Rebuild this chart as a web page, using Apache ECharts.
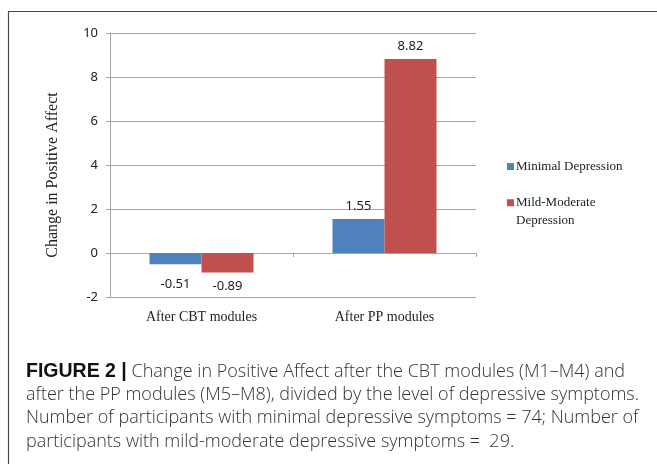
<!DOCTYPE html>
<html>
<head>
<meta charset="utf-8">
<script src="https://cdn.jsdelivr.net/npm/echarts@6/dist/echarts.min.js"></script>
<style>
  html, body { margin: 0; padding: 0; background: #fff; }
  #chart { width: 657px; height: 464px; }
</style>
</head>
<body>
<div id="chart"></div>
<script>
  // data
  var categories = ['After CBT modules', 'After PP modules'];
  var minimalValues = [-0.51, 1.55];
  var mildModerateValues = [-0.89, 8.82];
  var seriesNames = ['Minimal Depression', 'Mild-Moderate Depression'];
  var yTicks = { min: -2, max: 10, step: 2 };

  var serif = '"Liberation Serif", "Times New Roman", serif';
  var sans = '"Noto Sans", "Open Sans", sans-serif';
  var captionFont = '"Open Sans", "Liberation Sans", Arial, sans-serif';

  var caption = [
    '{b|FIGURE 2 |} Change in Positive Affect after the CBT modules (M1\u2013M4) and',
    'after the PP modules (M5\u2013M8), divided by the level of depressive symptoms.',
    'Number of participants with minimal depressive symptoms = 74; Number of',
    'participants with mild-moderate depressive symptoms =  29.'
  ].join('\n');

  // square on top of a taller (invisible) box so it lines up with the first text line
  var topSquareIcon = 'path://M0,0H7V7H0Z M0,24.5L0.01,24.5Z';

  // negative labels sit a bit further down on the blue bar in the original
  function buildData(values, negGap) {
    return values.map(function (v) {
      return {
        value: v,
        label: {
          show: true,
          position: v < 0 ? 'bottom' : 'top',
          distance: v < 0 ? negGap : 6,
          color: '#222',
          fontFamily: sans,
          fontSize: 13
        }
      };
    });
  }

  var myChart = echarts.init(document.getElementById('chart'));
  var option = {
    animation: false,
    title: {
      text: caption,
      left: 26,
      top: 360,
      padding: 0,
      textStyle: {
        fontFamily: captionFont,
        fontWeight: 300,
        fontSize: 18,
        lineHeight: 23.3,
        color: '#333',
        rich: {
          b: { fontFamily: '"Liberation Sans", Arial, sans-serif', fontWeight: 'bold', fontSize: 19.5, color: '#111', lineHeight: 23.3 }
        }
      }
    },
    graphic: [{
      type: 'rect',
      shape: { x: 8.5, y: 11.5, width: 700, height: 500 },
      style: { fill: 'none', stroke: '#4a4a4a', lineWidth: 1.2 },
      silent: true
    }],
    grid: { left: 110, right: 181, top: 33, bottom: 167 },
    legend: [{
      orient: 'vertical',
      left: 507,
      top: 160,
      padding: 0,
      itemWidth: 7,
      itemHeight: 7,
      icon: 'rect',
      data: [seriesNames[0]],
      textStyle: { fontFamily: serif, fontSize: 13, color: '#222', padding: [0, 0, 0, -3] }
    }, {
      orient: 'vertical',
      left: 507,
      top: 194,
      padding: 0,
      itemWidth: 7,
      itemHeight: 24.5,
      icon: topSquareIcon,
      data: [seriesNames[1]],
      formatter: function () { return 'Mild-Moderate\nDepression'; },
      textStyle: { fontFamily: serif, fontSize: 13, lineHeight: 17.5, color: '#222', padding: [0, 0, 0, -3] }
    }],
    xAxis: [{
      type: 'category',
      data: categories,
      axisLine: { onZero: true, lineStyle: { color: '#a6a6a6', width: 1 } },
      axisTick: { show: true, length: 4, lineStyle: { color: '#a6a6a6' } },
      axisLabel: { show: false }
    }, {
      type: 'category',
      position: 'bottom',
      data: categories,
      axisLine: { show: false },
      axisTick: { show: false },
      axisLabel: { margin: 13, fontFamily: serif, fontSize: 14, color: '#222' }
    }],
    yAxis: {
      type: 'value',
      min: yTicks.min,
      max: yTicks.max,
      interval: yTicks.step,
      name: 'Change in Positive Affect',
      nameLocation: 'middle',
      nameGap: 49,
      nameTextStyle: { fontFamily: serif, fontSize: 16, color: '#222', padding: [0, 20, 0, 0] },
      axisLine: { show: true, lineStyle: { color: '#a6a6a6' } },
      axisTick: { show: true, length: 4, lineStyle: { color: '#a6a6a6' } },
      axisLabel: { margin: 12, fontFamily: sans, fontSize: 13, color: '#222' },
      splitLine: { lineStyle: { color: '#a6a6a6', width: 1 } }
    },
    series: [{
      name: seriesNames[0],
      type: 'bar',
      xAxisIndex: 0,
      barWidth: 52,
      barGap: '0%',
      itemStyle: { color: '#4f81bd' },
      data: buildData(minimalValues, 14)
    }, {
      name: seriesNames[1],
      type: 'bar',
      xAxisIndex: 0,
      barWidth: 52,
      barGap: '0%',
      itemStyle: { color: '#c0504d' },
      data: buildData(mildModerateValues, 7)
    }]
  };
  myChart.setOption(option);
</script>
</body>
</html>
